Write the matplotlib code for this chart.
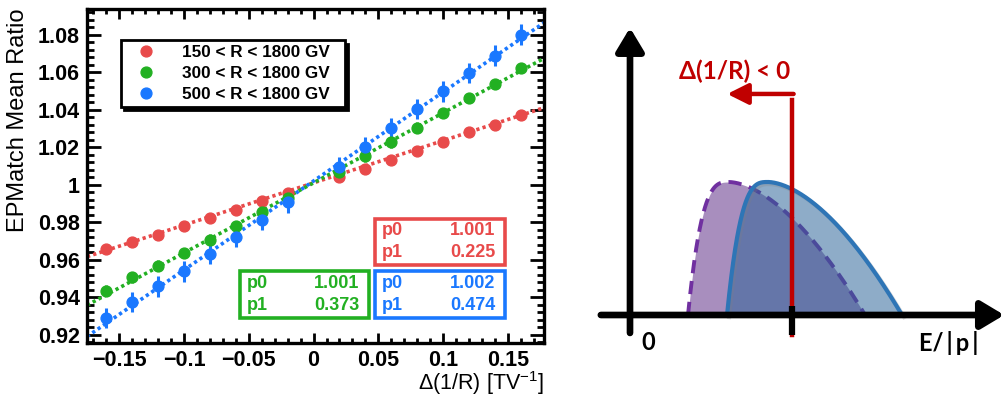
import numpy as np
import matplotlib
matplotlib.use("Agg")
import matplotlib.pyplot as plt
from matplotlib.patches import Rectangle
from matplotlib.ticker import MultipleLocator, FixedLocator, FixedFormatter
import matplotlib.patheffects as pe

# ---------------- data ----------------
delta_inv_r = [-0.16, -0.14, -0.12, -0.10, -0.08, -0.06, -0.04, -0.02,
               0.02, 0.04, 0.06, 0.08, 0.10, 0.12, 0.14, 0.16]

ratio_150 = [0.9657, 0.9694, 0.9733, 0.9778, 0.9822, 0.9867, 0.9911, 0.9956,
             1.0041, 1.0085, 1.0133, 1.0181, 1.0228, 1.0279, 1.0320, 1.0370]
err_150 = [0.0015, 0.0015, 0.0015, 0.0015, 0.0015, 0.0015, 0.0015, 0.0015,
           0.0015, 0.0015, 0.0015, 0.0015, 0.0015, 0.0015, 0.0015, 0.0015]

ratio_300 = [0.9435, 0.9506, 0.9568, 0.9636, 0.9707, 0.9781, 0.9854, 0.9929,
             1.0066, 1.0151, 1.0226, 1.0304, 1.0382, 1.0462, 1.0537, 1.0622]
err_300 = [0.0028, 0.0028, 0.0028, 0.0028, 0.0028, 0.0028, 0.0028, 0.0028,
           0.0028, 0.0028, 0.0028, 0.0028, 0.0028, 0.0028, 0.0028, 0.0028]

ratio_500 = [0.9289, 0.9374, 0.9458, 0.9538, 0.9632, 0.9721, 0.9813, 0.9906,
             1.0094, 1.0199, 1.0302, 1.0404, 1.0498, 1.0596, 1.0688, 1.0800]
err_500 = [0.0055, 0.0055, 0.0055, 0.0055, 0.0055, 0.0055, 0.0055, 0.0055,
           0.0055, 0.0055, 0.0055, 0.0055, 0.0055, 0.0055, 0.0055, 0.0055]

series_labels = ["150 < R < 1800 GV", "300 < R < 1800 GV", "500 < R < 1800 GV"]
series_colors = ["#e84a4a", "#22b022", "#1a78ff"]

# linear fit results  y = p0 + p1 * x
fit_p0 = [1.001, 1.001, 1.002]
fit_p1 = [0.225, 0.373, 0.474]

x_ticks = [-0.15, -0.1, -0.05, 0, 0.05, 0.1, 0.15]
x_tick_labels = ["\u22120.15", "\u22120.1", "\u22120.05", "0", "0.05", "0.1", "0.15"]
y_ticks = [0.92, 0.94, 0.96, 0.98, 1.0, 1.02, 1.04, 1.06, 1.08]
y_tick_labels = ["0.92", "0.94", "0.96", "0.98", "1", "1.02", "1.04", "1.06", "1.08"]

# schematic E/|p| distributions: (start, peak, end) along E/|p|
shape_shifted = (0.358, 0.611, 1.451)
shape_nominal = (0.599, 0.852, 1.679)
nominal_line = 1.0

# ---------------- style ----------------
plt.rcParams["font.family"] = ["Liberation Sans", "DejaVu Sans"]
plt.rcParams["mathtext.fontset"] = "custom"
plt.rcParams["mathtext.rm"] = "Liberation Sans"
plt.rcParams["mathtext.default"] = "regular"

W, H = 1006, 397
fig = plt.figure(figsize=(W / 100, H / 100), dpi=100)

# ---------------- left: fit panel ----------------
ax = fig.add_axes([87 / W, (H - 343) / H, (544 - 87) / W, (343 - 9) / H])
ax.set_xlim(-0.175, 0.178)
ax.set_ylim(0.9156, 1.0937)

xs = np.array(delta_inv_r)
handles = []
for vals, errs, col, lab in zip([ratio_150, ratio_300, ratio_500],
                                [err_150, err_300, err_500],
                                series_colors, series_labels):
    cont = ax.errorbar(xs, vals, yerr=errs, fmt="o", color=col, ms=7.8,
                       elinewidth=2.2, capsize=0, label=lab, zorder=3)
    handles.append(cont.lines[0])

xl = np.array(ax.get_xlim())
for p0, p1, col in zip(fit_p0, fit_p1, series_colors):
    ax.plot(xl, p0 + p1 * xl, color=col, lw=2.6, ls=(0, (0.9, 0.9)), zorder=2)

ax.xaxis.set_major_locator(FixedLocator(x_ticks))
ax.xaxis.set_major_formatter(FixedFormatter(x_tick_labels))
ax.xaxis.set_minor_locator(MultipleLocator(0.01))
ax.yaxis.set_major_locator(FixedLocator(y_ticks))
ax.yaxis.set_major_formatter(FixedFormatter(y_tick_labels))
ax.yaxis.set_minor_locator(MultipleLocator(0.004))

ax.tick_params(which="both", direction="in", top=True, right=True,
               width=2.0, labelsize=15.5, colors="black")
ax.tick_params(axis="x", which="major", length=7.5, pad=5)
ax.tick_params(axis="x", which="minor", length=3.8)
ax.tick_params(axis="y", which="major", length=10, pad=5)
ax.tick_params(axis="y", which="minor", length=5)
for lbl in ax.get_xticklabels() + ax.get_yticklabels():
    lbl.set_fontweight("bold")
for sp in ax.spines.values():
    sp.set_linewidth(2.4)

ax.set_ylabel("EPMatch Mean Ratio", fontsize=17, loc="top", va="center")
ax.yaxis.set_label_coords(-0.151, 1.0)
ax.set_xlabel("\u0394(1/R) [TV$^{-1}$]", fontsize=15.5, loc="right", va="center")
ax.xaxis.set_label_coords(1.0, -0.12)

leg = ax.legend(handles=handles, labels=series_labels, loc="lower left",
                bbox_to_anchor=(0.074, 0.707, 0.49, 0.22), mode="expand",
                borderaxespad=0, fancybox=False, frameon=True,
                edgecolor="black", framealpha=1,
                handlelength=2.4, handletextpad=0.9, labelspacing=0.35,
                borderpad=0.28, prop={"weight": "bold", "size": 12.3},
                shadow={"color": "black", "alpha": 1, "ox": 2.5, "oy": -2.5})
leg.get_frame().set_linewidth(2.0)

# fit-parameter boxes
boxes = [(0.630, 0.235, 0.284, 0.136),
         (0.335, 0.075, 0.281, 0.140),
         (0.630, 0.075, 0.284, 0.140)]
for (bx, by, bw, bh), p0, p1, col in zip(boxes, fit_p0, fit_p1, series_colors):
    ax.add_patch(Rectangle((bx, by), bw, bh, transform=ax.transAxes,
                           fill=True, facecolor="white", edgecolor=col,
                           lw=2.6, zorder=5))
    for row, (name, val) in enumerate([("p0", p0), ("p1", p1)]):
        yy = by + bh * (0.74 if row == 0 else 0.27)
        ax.text(bx + 0.015, yy, name, transform=ax.transAxes, color=col,
                fontsize=13, fontweight="bold", ha="left", va="center", zorder=6)
        ax.text(bx + bw - 0.02, yy, f"{val:.3f}", transform=ax.transAxes,
                color=col, fontsize=13, fontweight="bold", ha="right",
                va="center", zorder=6)

# ---------------- right: E/|p| schematic ----------------
px_per_unit_x = 162.0
px_per_unit_y = 133.0
ox_px, base_px = 630.0, 315.0
ax2 = fig.add_axes([580 / W, 0, (W - 580) / W, 1])
ax2.set_xlim((580 - ox_px) / px_per_unit_x, (W - ox_px) / px_per_unit_x)
ax2.set_ylim(-(H - base_px) / px_per_unit_y, base_px / px_per_unit_y)
ax2.axis("off")


def skewed_profile(start, peak, end, n=400):
    """Steep rise to a rounded top, then a long concave fall."""
    xr = np.linspace(start, peak, n)
    r = (xr - start) / (peak - start)
    yr = 1 - (1 - r) ** 3.1
    xf = np.linspace(peak, end, n)
    s = (xf - peak) / (end - peak)
    yf = 1 - s ** 1.7
    return np.concatenate([xr, xf[1:]]), np.concatenate([yr, yf[1:]])


shadow = [pe.SimpleLineShadow(offset=(1.5, -1.5), alpha=0.25, shadow_color="gray"),
          pe.Normal()]

xa, ya = skewed_profile(*shape_shifted)
ax2.fill_between(xa, 0, ya, color="#a88ebe", lw=0, zorder=2)
ax2.plot(xa, ya, color="#7030a0", lw=2.8, ls=(0, (3.4, 2.0)), zorder=3)

xb, yb = skewed_profile(*shape_nominal)
ax2.fill_between(xb, 0, yb, color="#2a6297", alpha=0.53, lw=0, zorder=4)
ax2.plot(xb, yb, color="#2e75b6", lw=3.0, zorder=5, path_effects=shadow)

# axes of the sketch
axis_arrow = dict(arrowstyle="-|>,head_length=1.0,head_width=0.6",
                  mutation_scale=14, lw=4.8, color="black",
                  shrinkA=0, shrinkB=0)
ax2.annotate("", xy=(0, 2.16), xytext=(0, -0.135), arrowprops=axis_arrow,
             annotation_clip=False, zorder=8)
ax2.annotate("", xy=(2.31, 0), xytext=(-0.18, 0), arrowprops=axis_arrow,
             annotation_clip=False, zorder=8)

# nominal position marker and shift arrow
ax2.plot([nominal_line, nominal_line], [-0.15, 1.617], color="#c00000", lw=3.2, zorder=9)
ax2.plot([nominal_line, nominal_line], [-0.15, 0.07], color="black", lw=4.5,
         solid_capstyle="butt", zorder=10)
ax2.annotate("", xy=(nominal_line - 0.40, 1.662), xytext=(nominal_line + 0.01, 1.662),
             arrowprops=dict(arrowstyle="-|>,head_length=0.9,head_width=0.45",
                             mutation_scale=14, lw=3.2, color="#c00000",
                             shrinkA=0, shrinkB=0), zorder=9)
ax2.text(nominal_line - 0.355, 1.83, "\u0394(1/R) < 0", color="#c00000",
         fontsize=17.5, fontweight="bold", family=["Lato", "DejaVu Sans"],
         ha="center", va="center", zorder=9)

ax2.text(0.11, -0.21, "0", fontsize=17, fontweight="bold",
         family=["Lato", "DejaVu Sans"], ha="center", va="center")
ax2.text(1.97, -0.21, "E/\u2009|\u2009p\u2009|", fontsize=17, fontweight="bold",
         family=["Lato", "DejaVu Sans"], ha="center", va="center")

fig.savefig("out.png", dpi=100)
